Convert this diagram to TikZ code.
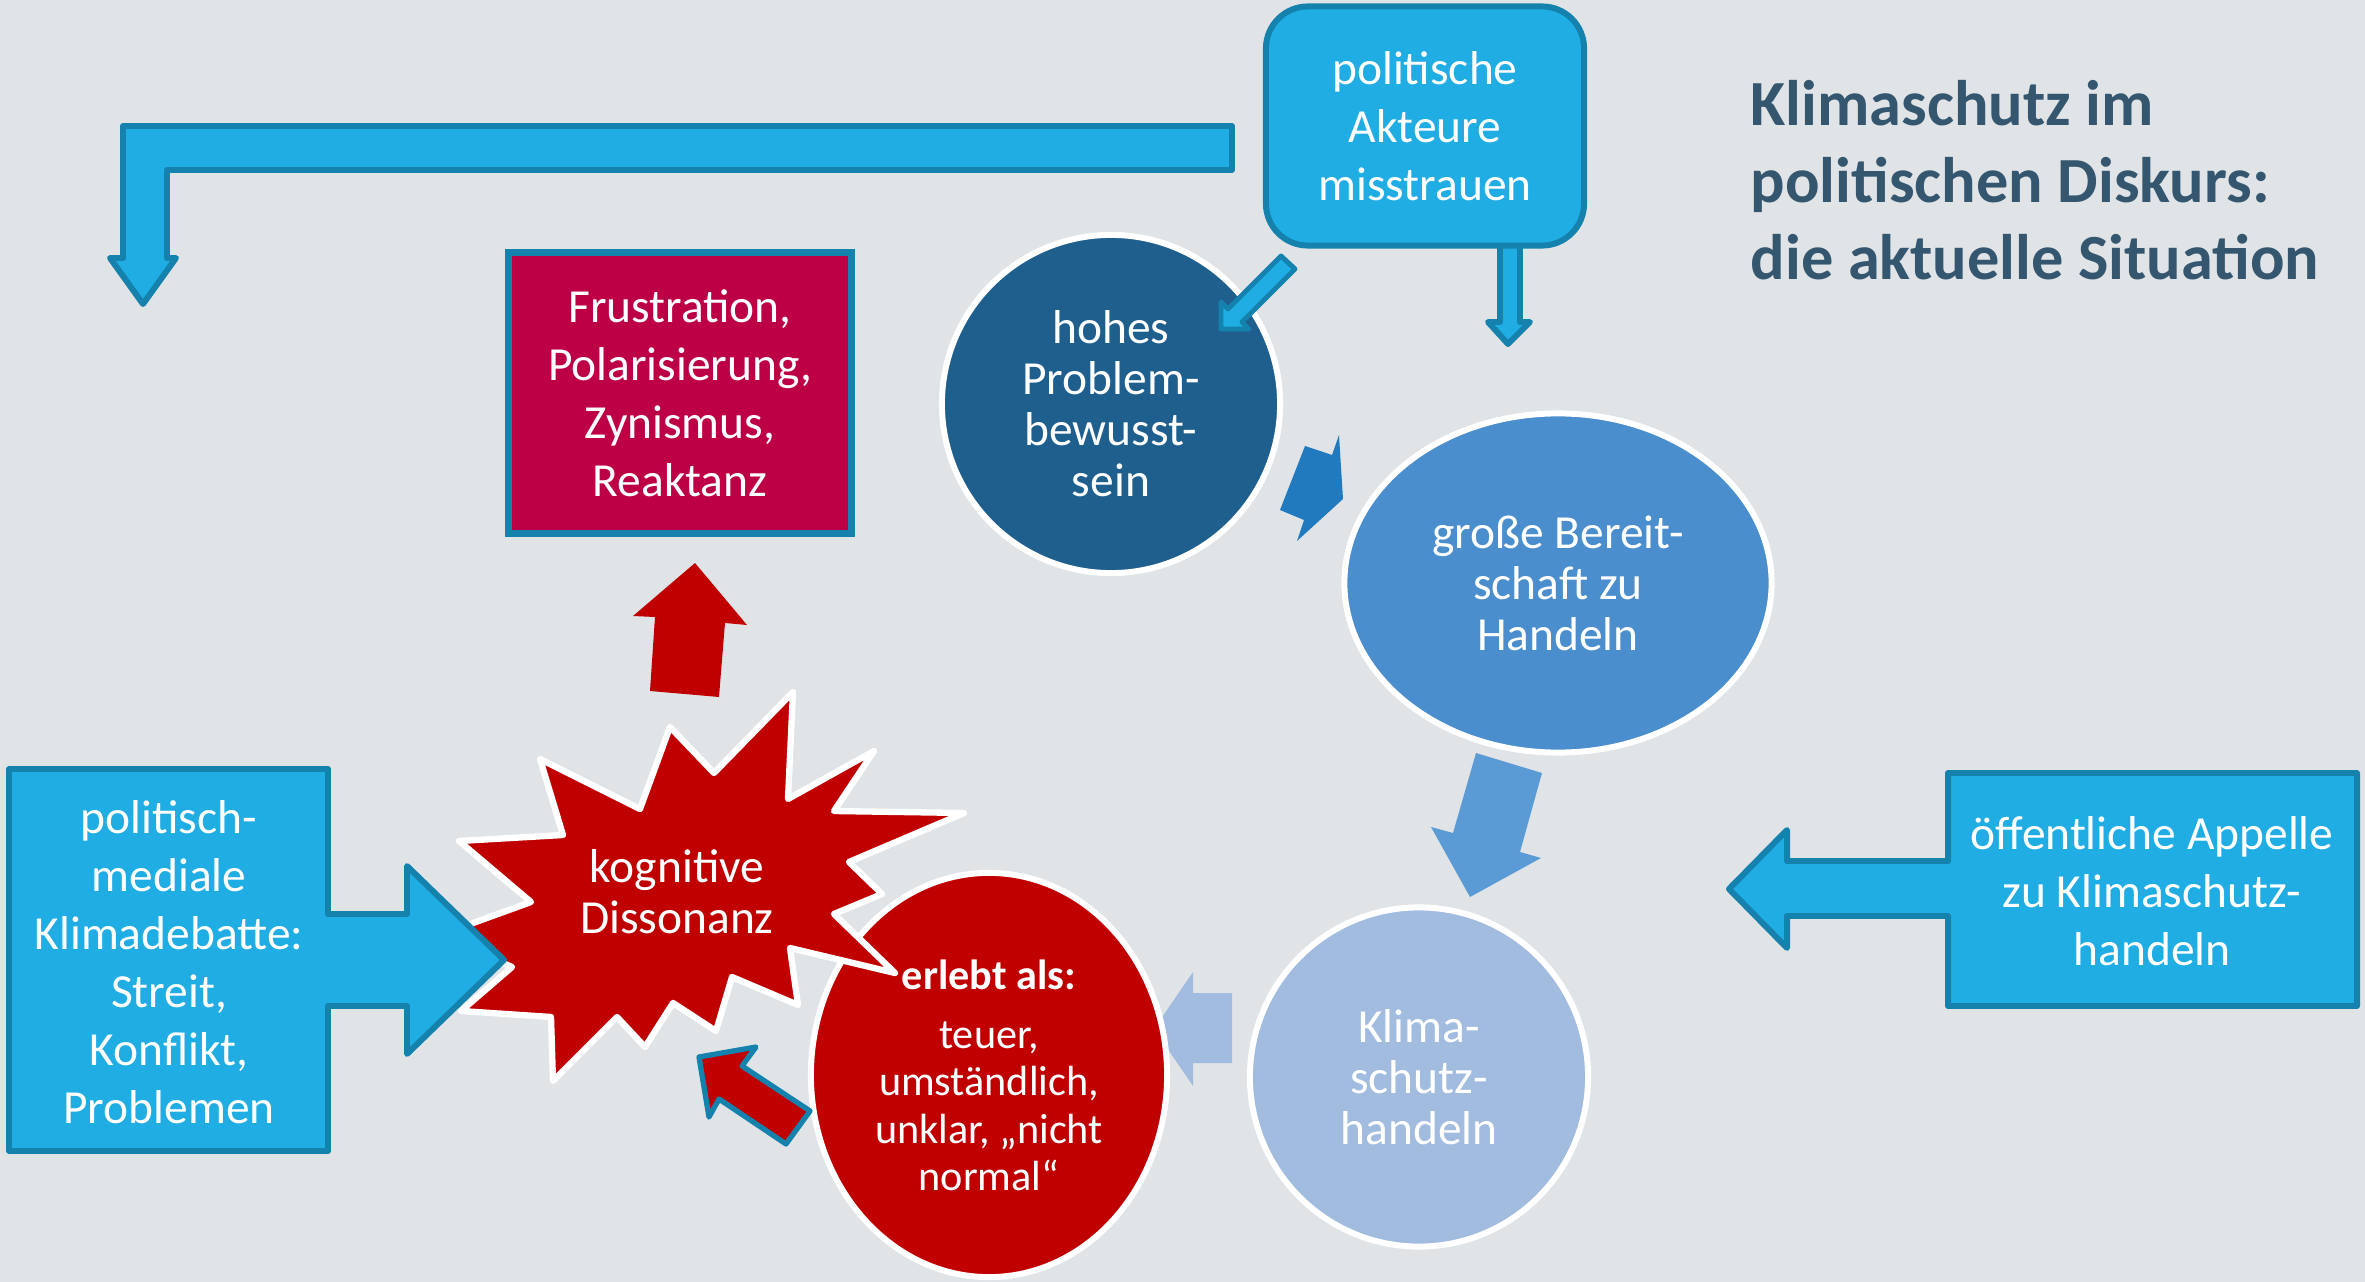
\documentclass[tikz,border=0pt]{standalone}
\usepackage{fontspec}
\setmainfont{Carlito}
\usetikzlibrary{shapes.geometric}

\definecolor{bgcol}{RGB}{224,228,231}
\definecolor{skyfill}{RGB}{31,173,228}
\definecolor{skyedge}{RGB}{21,129,173}
\definecolor{darkblue}{RGB}{31,95,142}
\definecolor{midblue}{RGB}{74,142,206}
\definecolor{paleblue}{RGB}{162,188,223}
\definecolor{arrblue}{RGB}{33,121,190}
\definecolor{arrmid}{RGB}{91,155,213}
\definecolor{klimared}{RGB}{192,0,0}
\definecolor{crimson}{RGB}{189,0,69}
\definecolor{titlecol}{RGB}{52,86,110}

\tikzset{
  bubtext/.style={text=white, align=center, font=\fontsize{13.5}{14.5}\selectfont},
  bubble/.style={ellipse, draw=white, line width=1.7pt, inner sep=0pt, bubtext},
  plaintext/.style={text=white, align=center, font=\fontsize{13.5}{16.5}\selectfont},
  skybox/.style={draw=skyedge, fill=skyfill, line width=1.7pt, line join=round},
}

\begin{document}
\begin{tikzpicture}[x=0.01cm, y=-0.01cm]

\useasboundingbox (0,0) rectangle (2365,1282);
\fill[bgcol] (0,0) rectangle (2365,1282);

% feedback arrow to the left
\draw[skybox] (1232,126) -- (123,126) -- (123,258) -- (110,258) -- (143,304)
  -- (176,258) -- (167,258) -- (167,170) -- (1232,170) -- cycle;

% arrow below the actors box
\draw[skybox] (1500,240) -- (1500,322) -- (1488,322) -- (1508,344) -- (1530,322)
  -- (1520,322) -- (1520,240);

\node[skybox, plaintext, rounded corners=0.42cm, minimum width=3.18cm,
  minimum height=2.39cm] (akteure) at (1425,126) {politische\\Akteure\\misstrauen};

% circle of states
\node[bubble, fill=darkblue, minimum width=3.38cm, minimum height=3.38cm]
  (problem) at (1111,404) {hohes\\Problem-\\bewusst-\\sein};

\draw[skybox, line width=1.4pt] (1281,256) -- (1228,309) -- (1221,302) -- (1221,329)
  -- (1249,329) -- (1242,322) -- (1295,269) -- cycle;

\fill[arrblue] (1305,446) -- (1332,455) -- (1339,435) -- (1343,499) -- (1297,541)
  -- (1304,520) -- (1280,510) -- cycle;

\node[bubble, fill=midblue, minimum width=4.27cm, minimum height=3.39cm]
  (bereit) at (1558,583) {große Bereit-\\schaft zu\\Handeln};

\fill[arrmid] (1476,753) -- (1542,773) -- (1520,852) -- (1541,858) -- (1470,897)
  -- (1431,827) -- (1453,833) -- cycle;

\node[bubble, fill=paleblue, minimum width=3.38cm, minimum height=3.39cm]
  (handeln) at (1419,1077) {Klima-\\schutz-\\handeln};

\fill[paleblue] (1232,993) -- (1193,993) -- (1193,972) -- (1154,1029) -- (1193,1086)
  -- (1193,1063) -- (1232,1063) -- cycle;

\node[bubble, fill=klimared, minimum width=3.56cm, minimum height=4.04cm,
  font=\fontsize{12}{13.4}\selectfont] (erlebt) at (989,1075)
  {\textbf{erlebt als:}\\[3.6pt]teuer,\\umständlich,\\unklar, „nicht\\normal“};

% dissonance burst
\draw[white, fill=klimared, line width=1.8pt, line join=round]
  (459,841) -- (563,835) -- (540,759) -- (640,809) -- (670,727) -- (714,773)
  -- (793,692) -- (788,799) -- (874,751) -- (834,811) -- (964,813) -- (849,862)
  -- (882,894) -- (834,914) -- (895,973) -- (790,948) -- (798,1005) -- (732,977)
  -- (716,1031) -- (673,1003) -- (645,1047) -- (617,1017) -- (553,1081) -- (551,1017)
  -- (461,1011) -- (512,967) -- (440,935) -- (531,902) -- cycle;
\node[bubtext] (dissonanz) at (677,892) {kognitive\\Dissonanz};

% debate callout
\draw[skybox] (9,769) -- (328,769) -- (328,914) -- (407,914) -- (407,866) -- (504,960)
  -- (407,1054) -- (407,1006) -- (328,1006) -- (328,1151) -- (9,1151) -- cycle;
\node[plaintext] (debatte) at (169,962)
  {politisch-\\mediale\\Klimadebatte:\\Streit,\\Konflikt,\\Problemen};

\draw[draw=skyedge, fill=klimared, line width=1.5pt, line join=round]
  (699,1057) -- (756,1047) -- (742,1066) -- (810,1111) -- (786,1144) -- (719,1099)
  -- (709,1117) -- cycle;

\fill[klimared] (650,691) -- (655,617) -- (633,616) -- (695,563) -- (747,625)
  -- (725,623) -- (719,697) -- cycle;

\node[draw=skyedge, fill=crimson, line width=2pt, plaintext, minimum width=3.43cm,
  minimum height=2.81cm] (frust) at (680,393)
  {Frustration,\\Polarisierung,\\Zynismus,\\Reaktanz};

% appeals callout
\draw[skybox] (2357,773) -- (1948,773) -- (1948,861) -- (1787,861) -- (1787,830)
  -- (1729,889) -- (1787,948) -- (1787,916) -- (1948,916) -- (1948,1006)
  -- (2357,1006) -- cycle;
\node[plaintext] (appelle) at (2152,891) {öffentliche Appelle\\zu Klimaschutz-\\handeln};

% title
\node[anchor=west, align=left, inner sep=0pt, text=titlecol,
  font=\fontsize{18.3}{21.8}\selectfont\bfseries] (titel) at (1750,180)
  {Klimaschutz im\\politischen Diskurs:\\die aktuelle Situation};

\end{tikzpicture}
\end{document}
